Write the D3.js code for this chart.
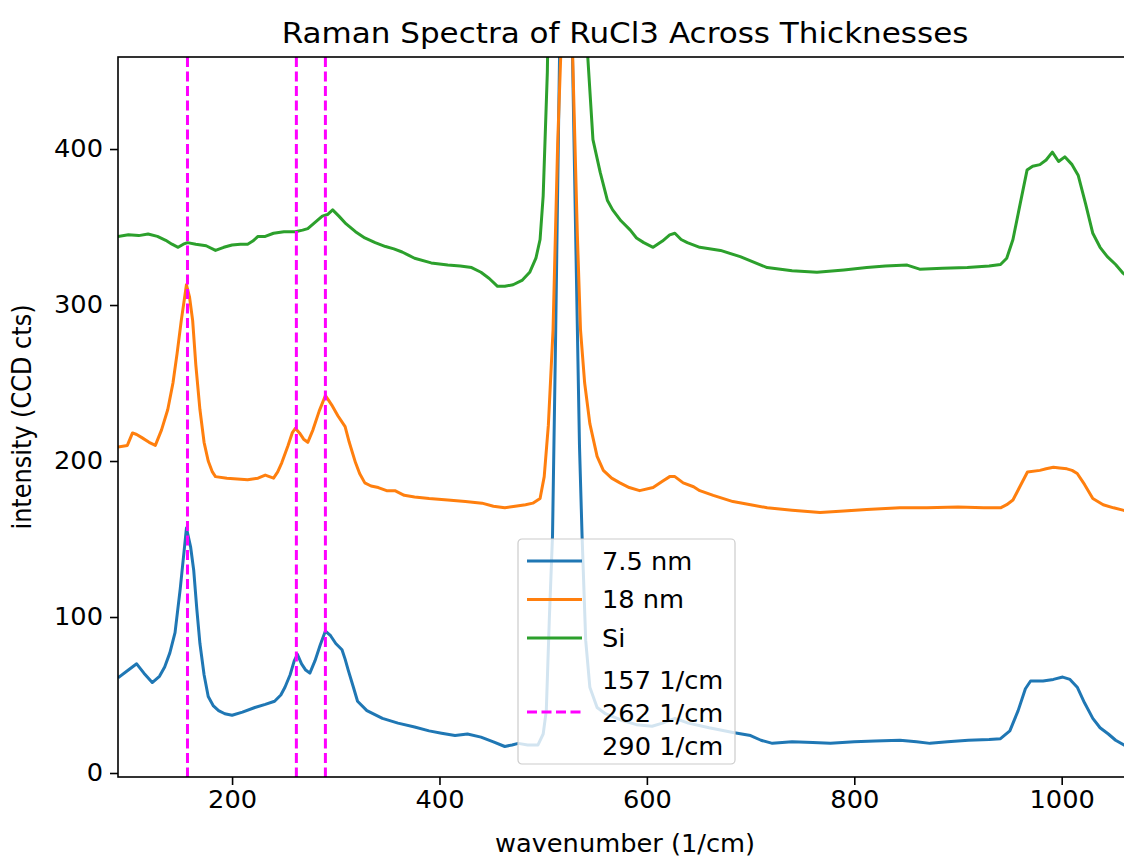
<!DOCTYPE html>
<html lang="en">
<head>
    <meta charset="UTF-8">
    <title>Raman Spectra of RuCl3</title>
    <script src="https://d3js.org/d3.v7.min.js"></script>
    <style>
        body { margin: 0; background: #fff; }
        svg { display: block; }
        text { font-family: "DejaVu Sans", sans-serif; fill: #000; }
    </style>
</head>
<body>

<script>
    // spectra: [wavenumber, intensity]
    var spec75nm = [
        [90,61],[100,66],[108,70],[115,64],[123,58],[130,62],[135,68],[140,77],[145,90],[150,118],
        [156,157],[160,145],[163,130],[166,105],[169,83],[173,63],[177,49],[182,43],[187,40],[193,38],
        [200,37],[210,39],[222,42],[232,44],[241,46],[247,50],[251,55],[256,63],[260,72],[263,76],
        [267,70],[271,66],[275,64],[280,72],[285,82],[290,91],[295,88],[300,83],[306,79],[309,73],
        [312,66],[317,55],[321,46],[330,40],[345,35],[360,32],[376,29.5],[390,27],[402,25.5],[415,24],
        [427,25],[440,23],[452,20],[463,17],[470,18],[476,19],[485,18],[495,18],[500,25],[503,40],
        [506,100],[509,152],[512,280],[516,470],[519,600],[522,660],[525,580],[528,470],[532,320],[535,210],
        [537.5,152],[541,85],[545,55],[552,42],[560,38],[575,34],[590,31],[605,30],[615,32],[627,35],
        [640,32],[660,29],[683,26],[700,24],[710,21],[721,19],[740,20],[760,19.5],[777,19],[800,20],
        [820,20.5],[844,21],[860,20],[873,19],[890,20],[910,21],[930,21.5],[941,22],[950,27],[958,40],
        [965,54],[970,59],[982,59],[992,60],[1001,61.5],[1008,60],[1015,55],[1022,45],[1030,35],[1037,29],
        [1045,25],[1052,21],[1060,18],[1068,15]
    ];

    var spec18nm = [
        [90,209],[99,210],[104,218],[108,217],[113,215],[120,212],[126,210],[132,220],[138,233],[143,250],
        [147,269],[151,290],[156,313],[159,305],[162,290],[165,262],[169,233],[173,212],[177,200],[181,193],
        [184,190],[195,189],[205,188.5],[215,188],[225,189],[232,191],[236,190],[240,189],[244,193],[248,199],
        [254,210],[258,218],[261,221],[265,218],[269,214],[273,212],[278,220],[284,232],[290,242],[293,239],
        [296,236],[302,229],[309,222],[313,212],[319,199],[323,192],[328,186],[334,184],[341,183],[349,181],
        [357,181],[366,178],[376,177],[390,176],[408,175],[425,174],[441,173],[452,171],[463,170],[473,171],
        [483,172],[490,173],[497,176],[501,190],[505,223],[509.5,284],[514,404],[518,480],[522,620],[525,560],
        [528,470],[533,344],[536,284],[540,250],[545,224],[552,203],[558,194],[566,189],[574,186],[583,183],
        [593,181],[606,183],[615,187],[622,190],[627,190],[635,186],[645,183.5],[651,181],[664,178],[683,174],
        [700,172],[716,170],[740,168.5],[767,167],[790,168],[812,169],[844,170],[870,170],[900,170.5],[925,170],
        [941,170],[947,172],[953,175],[960,184],[967,193],[979,194],[985,195],[992,196],[998,195.5],[1005,195],
        [1010,194],[1015,192],[1022,185],[1030,176],[1040,172],[1050,170],[1059,168.5],[1068,167]
    ];

    var specSi = [
        [90,344],[100,345],[110,344.5],[119,345.5],[128,344],[136,341.5],[142,339],[148,337],[153,339],[157,340],
        [165,339],[175,338],[184,335],[192,337],[200,338.5],[208,339],[215,339],[220,341],[225,344],[232,344],
        [240,346],[250,347],[261,347],[268,348],[273,349],[280,353],[287,357],[292,358],[297,361],[303,357],
        [310,352],[319,347],[328,343],[338,340],[348,337.5],[356,336],[364,334],[370,332],[376,330],[392,327],
        [408,325.6],[420,325],[431,324],[440,321],[448,317],[456,312],[463,312],[471,313],[480,316],[487,321],
        [493,330],[497,342],[500,370],[504,449],[510,700],[520,1500],[530,700],[538,500],[543,459],[548,406],
        [555,385],[562,367],[567,361],[575,354],[584,348],[590,343],[597,340],[606,337],[615,341],[622,345],
        [627,346],[633,342],[639,340],[651,337],[671,335],[690,331],[716,324],[740,322],[764,321],[790,322.5],
        [812,324],[830,325],[851,325.6],[863,323],[885,323.5],[909,324],[930,325],[941,326],[947,330],[953,342],
        [960,365],[966.6,386.5],[972,389],[979,390],[985,393],[991,398],[997,392],[1003,395],[1010,390],[1016,383],
        [1023,365],[1030,346],[1037,337],[1044,331],[1052,326],[1059,320.5],[1068,316]
    ];

    var seriesNames = ["7.5 nm", "18 nm", "Si"];
    var seriesColors = ["#1f77b4", "#ff7f0e", "#2ca02c"];
    var peakLines = [157, 262, 290];
    var peakLabels = ["157 1/cm", "262 1/cm", "290 1/cm"];
    var xTicks = [200, 400, 600, 800, 1000];
    var yTicks = [0, 100, 200, 300, 400];

    var W = 1124, H = 857;
    var padL = 118, padT = 57, padR = 1132, padB = 777;
    var fs = 24;
    var lw = 3;
    var stretch = "scale(1.07,1)";   // the reference text is a bit wider than it is tall

    var svg = d3.select("body").append("svg")
        .attr("width", W)
        .attr("height", H);

    var x = d3.scaleLinear().domain([90, 1067.8]).range([padL, padR]);
    var y = d3.scaleLinear().domain([-2.56, 459]).range([padB, padT]);

    svg.append("clipPath").attr("id", "plotclip")
        .append("rect")
        .attr("x", padL).attr("y", padT)
        .attr("width", padR - padL).attr("height", padB - padT);

    var plot = svg.append("g").attr("clip-path", "url(#plotclip)");

    var line = d3.line()
        .x(function (d) { return x(d[0]); })
        .y(function (d) { return y(d[1]); });

    [spec75nm, spec18nm, specSi].forEach(function (s, i) {
        plot.append("path")
            .datum(s)
            .attr("fill", "none")
            .attr("stroke", seriesColors[i])
            .attr("stroke-width", lw)
            .attr("stroke-linejoin", "round")
            .attr("d", line);
    });

    // marker lines at the RuCl3 modes
    plot.selectAll(".peak")
        .data(peakLines)
        .enter().append("line")
        .attr("x1", function (d) { return x(d); })
        .attr("x2", function (d) { return x(d); })
        .attr("y1", padT)
        .attr("y2", padB)
        .attr("stroke", "#ff00ff")
        .attr("stroke-width", lw)
        .attr("stroke-dasharray", "10,4.5");

    // axes
    var xAxis = svg.append("g")
        .attr("transform", "translate(0," + padB + ")")
        .call(d3.axisBottom(x).tickValues(xTicks).tickSize(8).tickPadding(6).tickFormat(d3.format("d")));
    var yAxis = svg.append("g")
        .attr("transform", "translate(" + padL + ",0)")
        .call(d3.axisLeft(y).tickValues(yTicks).tickSize(8).tickPadding(6).tickFormat(d3.format("d")));

    [xAxis, yAxis].forEach(function (a) {
        a.select(".domain").remove();
        a.selectAll(".tick line").attr("stroke", "#000").attr("stroke-width", 1.6);
        a.selectAll(".tick text")
            .style("font-size", fs + "px")
            .attr("fill", "#000")
            .attr("transform", stretch);
    });

    // spines
    svg.append("rect")
        .attr("x", padL).attr("y", padT)
        .attr("width", padR - padL).attr("height", padB - padT)
        .attr("fill", "none")
        .attr("stroke", "#000")
        .attr("stroke-width", 1.6);

    svg.append("text")
        .attr("transform", "translate(" + ((padL + padR) / 2) + ",43) " + stretch)
        .attr("text-anchor", "middle")
        .style("font-size", "29px")
        .text("Raman Spectra of RuCl3 Across Thicknesses");

    svg.append("text")
        .attr("transform", "translate(" + ((padL + padR) / 2) + ",852) " + stretch)
        .attr("text-anchor", "middle")
        .style("font-size", fs + "px")
        .text("wavenumber (1/cm)");

    svg.append("text")
        .attr("transform", "translate(31," + ((padT + padB) / 2) + ") rotate(-90) scale(1.0,1.07)")
        .attr("text-anchor", "middle")
        .style("font-size", fs + "px")
        .text("intensity (CCD cts)");

    // legend
    var lg = svg.append("g").attr("transform", "translate(518,539)");
    lg.append("rect")
        .attr("width", 217).attr("height", 225)
        .attr("rx", 4)
        .attr("fill", "#fff").attr("fill-opacity", 0.8)
        .attr("stroke", "#ccc").attr("stroke-width", 1.2);

    seriesNames.forEach(function (name, i) {
        var yy = 22 + i * 38.5;
        lg.append("line")
            .attr("x1", 9).attr("x2", 64)
            .attr("y1", yy).attr("y2", yy)
            .attr("stroke", seriesColors[i]).attr("stroke-width", lw);
        lg.append("text")
            .attr("transform", "translate(84," + (yy + 8.5) + ") " + stretch)
            .style("font-size", fs + "px")
            .text(name);
    });

    lg.append("line")
        .attr("x1", 9).attr("x2", 64)
        .attr("y1", 173).attr("y2", 173)
        .attr("stroke", "#ff00ff").attr("stroke-width", lw)
        .attr("stroke-dasharray", "10,4.5");
    peakLabels.forEach(function (t, i) {
        lg.append("text")
            .attr("transform", "translate(84," + (150 + i * 33) + ") " + stretch)
            .style("font-size", fs + "px")
            .text(t);
    });
</script>
</body>
</html>
